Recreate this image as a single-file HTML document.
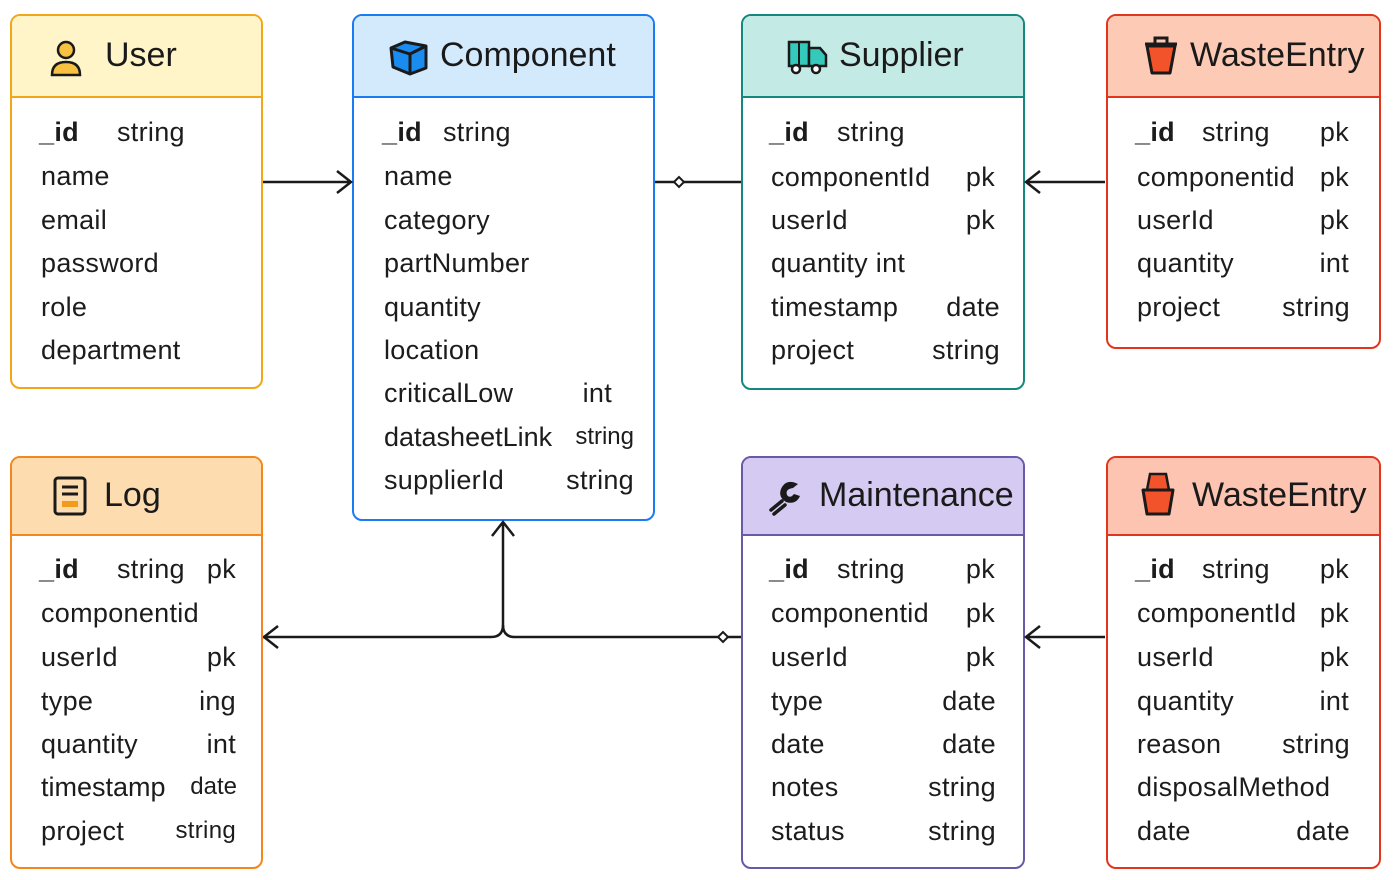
<!DOCTYPE html>
<html><head><meta charset="utf-8"><style>
body{margin:0;width:1398px;height:880px;background:#fff;position:relative;overflow:hidden;font-family:"Liberation Sans",sans-serif;color:#1c1c1c}
.box{position:absolute;border:2.5px solid;border-radius:10px;background:#fff;box-sizing:border-box;overflow:hidden}
.hd{position:absolute;left:0;right:0;top:0;border-bottom:2.5px solid}
.t{position:absolute;font-size:27px;line-height:30px;white-space:nowrap;letter-spacing:0.3px}
.ti{position:absolute;font-size:34px;line-height:40px;white-space:nowrap;color:#1a1a1a}
b{font-weight:bold}
svg{position:absolute;left:0;top:0}
</style></head><body>

<div class="box" style="left:10px;top:14px;width:253px;height:375px;border-color:#f2a71b"><div class="hd" style="height:80px;background:#fff5c9;border-color:#f2a71b"></div></div>
<div class="box" style="left:352px;top:14px;width:303px;height:507px;border-color:#1a7cf5"><div class="hd" style="height:80px;background:#d3eafd;border-color:#1a7cf5"></div></div>
<div class="box" style="left:741px;top:14px;width:284px;height:376px;border-color:#14887f"><div class="hd" style="height:80px;background:#c4eae5;border-color:#14887f"></div></div>
<div class="box" style="left:1106px;top:14px;width:275px;height:335px;border-color:#e2361c"><div class="hd" style="height:80px;background:#fdcbb5;border-color:#e2361c"></div></div>
<div class="box" style="left:10px;top:456px;width:253px;height:413px;border-color:#f5861b"><div class="hd" style="height:76px;background:#fddcb0;border-color:#f5861b"></div></div>
<div class="box" style="left:741px;top:456px;width:284px;height:413px;border-color:#6a5aa6"><div class="hd" style="height:76px;background:#d5caf1;border-color:#6a5aa6"></div></div>
<div class="box" style="left:1106px;top:456px;width:275px;height:413px;border-color:#e2361c"><div class="hd" style="height:76px;background:#fdc4b2;border-color:#e2361c"></div></div>

<svg width="1398" height="880" viewBox="0 0 1398 880">
<g stroke="#1a1a1a" stroke-width="2.5" fill="none">
<path d="M263 182H351M337 171L351 182L337 193"/>
<path d="M655 182H741"/>
<path d="M1105 182H1026M1040 171L1026 182L1040 193"/>
<path d="M263 637H491Q503 637 503 625V522M492 536L503 522L514 536"/>
<path d="M503 625Q503 637 515 637H741"/>
<path d="M264 637L278 626M264 637L278 648"/>
<path d="M1105 637H1026M1040 626L1026 637L1040 648"/>
</g>
<path d="M674 182L679 177L684 182L679 187Z" fill="#fff" stroke="#1a1a1a" stroke-width="2"/>
<path d="M718 637L723 632L728 637L723 642Z" fill="#fff" stroke="#1a1a1a" stroke-width="2"/>
<circle cx="66" cy="50" r="8" fill="#f7c242" stroke="#1a1a1a" stroke-width="2.5"/>
<path d="M52 75Q52 62 66 62Q80 62 80 75Z" fill="#f7c242" stroke="#1a1a1a" stroke-width="2.5"/>
<path d="M391 48L405 42L426 46L426 68L410 74L393 67Z" fill="#1a8cf0" stroke="#1a1a1a" stroke-width="3" stroke-linejoin="round"/>
<path d="M391 48L410 54L426 46M410 54V74" fill="none" stroke="#1a1a1a" stroke-width="3"/>
<rect x="789" y="42" width="20" height="24" fill="#35c9bb" stroke="#1a1a1a" stroke-width="2.5"/>
<path d="M809 48H820L826 55V66H809Z" fill="#35c9bb" stroke="#1a1a1a" stroke-width="2.5"/>
<line x1="799" y1="42" x2="799" y2="66" stroke="#1a1a1a" stroke-width="2"/>
<circle cx="796" cy="69" r="4" fill="#fff" stroke="#1a1a1a" stroke-width="2.5"/>
<circle cx="816" cy="69" r="4" fill="#fff" stroke="#1a1a1a" stroke-width="2.5"/>
<path d="M1145 44H1177" stroke="#1a1a1a" stroke-width="3"/>
<path d="M1155 44V38H1167V44" fill="none" stroke="#1a1a1a" stroke-width="3"/>
<path d="M1147 46L1152 73H1170L1175 46Z" fill="#f3532a" stroke="#1a1a1a" stroke-width="3" stroke-linejoin="round"/>
<rect x="55" y="478" width="30" height="36" rx="3" fill="#fddcb0" stroke="#1a1a1a" stroke-width="3"/>
<path d="M62 487H78M62 494H78" stroke="#1a1a1a" stroke-width="3"/>
<path d="M62 501H78V507H62" fill="#f59b1b"/>
<path d="M798 484Q786 478 781 489Q778 497 786 502Q796 505 800 496L794 494Q790 499 787 495Q785 489 793 488Z" fill="#1a1a1a"/>
<path d="M782 501L771 510M785 505L774 514" stroke="#1a1a1a" stroke-width="3.5" stroke-linecap="round"/>
<path d="M1150 474L1147 490H1169L1166 474Z" fill="#f3532a" stroke="#1a1a1a" stroke-width="2.5"/>
<path d="M1143 490H1173L1169 514H1147Z" fill="#f3532a" stroke="#1a1a1a" stroke-width="3" stroke-linejoin="round"/>
</svg>

<div class="ti" style="left:105px;top:35px">User</div>
<div class="ti" style="left:440px;top:35px">Component</div>
<div class="ti" style="left:839px;top:35px">Supplier</div>
<div class="ti" style="left:1190px;top:35px">WasteEntry</div>
<div class="ti" style="left:104px;top:475px">Log</div>
<div class="ti" style="left:819px;top:475px">Maintenance</div>
<div class="ti" style="left:1192px;top:475px">WasteEntry</div>

<div class="t" style="left:39px;top:117px"><b>_id</b></div><div class="t" style="left:117px;top:117px">string</div>
<div class="t" style="left:41px;top:161px">name</div>
<div class="t" style="left:41px;top:205px">email</div>
<div class="t" style="left:41px;top:248px">password</div>
<div class="t" style="left:41px;top:292px">role</div>
<div class="t" style="left:41px;top:335px">department</div>

<div class="t" style="left:382px;top:117px"><b>_id</b></div><div class="t" style="left:443px;top:117px">string</div>
<div class="t" style="left:384px;top:161px">name</div>
<div class="t" style="left:384px;top:205px">category</div>
<div class="t" style="left:384px;top:248px">partNumber</div>
<div class="t" style="left:384px;top:292px">quantity</div>
<div class="t" style="left:384px;top:335px">location</div>
<div class="t" style="left:384px;top:378px">criticalLow</div><div class="t" style="right:786px;top:378px">int</div>
<div class="t" style="left:384px;top:422px;letter-spacing:0">datasheetLink</div><div class="t" style="right:764px;top:422px;font-size:24px;letter-spacing:0">string</div>
<div class="t" style="left:384px;top:465px">supplierId</div><div class="t" style="right:764px;top:465px">string</div>

<div class="t" style="left:769px;top:117px"><b>_id</b></div><div class="t" style="left:837px;top:117px">string</div>
<div class="t" style="left:771px;top:162px">componentId</div><div class="t" style="right:403px;top:162px">pk</div>
<div class="t" style="left:771px;top:205px">userId</div><div class="t" style="right:403px;top:205px">pk</div>
<div class="t" style="left:771px;top:248px">quantity int</div>
<div class="t" style="left:771px;top:292px">timestamp</div><div class="t" style="right:398px;top:292px">date</div>
<div class="t" style="left:771px;top:335px">project</div><div class="t" style="right:398px;top:335px">string</div>

<div class="t" style="left:1135px;top:117px"><b>_id</b></div><div class="t" style="left:1202px;top:117px">string</div><div class="t" style="right:49px;top:117px">pk</div>
<div class="t" style="left:1137px;top:162px">componentid</div><div class="t" style="right:49px;top:162px">pk</div>
<div class="t" style="left:1137px;top:205px">userId</div><div class="t" style="right:49px;top:205px">pk</div>
<div class="t" style="left:1137px;top:248px">quantity</div><div class="t" style="right:49px;top:248px">int</div>
<div class="t" style="left:1137px;top:292px">project</div><div class="t" style="right:48px;top:292px">string</div>

<div class="t" style="left:39px;top:554px"><b>_id</b></div><div class="t" style="left:117px;top:554px">string</div><div class="t" style="right:1162px;top:554px">pk</div>
<div class="t" style="left:41px;top:598px">componentid</div>
<div class="t" style="left:41px;top:642px">userId</div><div class="t" style="right:1162px;top:642px">pk</div>
<div class="t" style="left:41px;top:686px">type</div><div class="t" style="right:1162px;top:686px">ing</div>
<div class="t" style="left:41px;top:729px">quantity</div><div class="t" style="right:1162px;top:729px">int</div>
<div class="t" style="left:41px;top:772px;letter-spacing:0">timestamp</div><div class="t" style="right:1161px;top:772px;font-size:24px;letter-spacing:0">date</div>
<div class="t" style="left:41px;top:816px">project</div><div class="t" style="right:1162px;top:816px;font-size:24px">string</div>

<div class="t" style="left:769px;top:554px"><b>_id</b></div><div class="t" style="left:837px;top:554px">string</div><div class="t" style="right:403px;top:554px">pk</div>
<div class="t" style="left:771px;top:598px">componentid</div><div class="t" style="right:403px;top:598px">pk</div>
<div class="t" style="left:771px;top:642px">userId</div><div class="t" style="right:403px;top:642px">pk</div>
<div class="t" style="left:771px;top:686px">type</div><div class="t" style="right:402px;top:686px">date</div>
<div class="t" style="left:771px;top:729px">date</div><div class="t" style="right:402px;top:729px">date</div>
<div class="t" style="left:771px;top:772px">notes</div><div class="t" style="right:402px;top:772px">string</div>
<div class="t" style="left:771px;top:816px">status</div><div class="t" style="right:402px;top:816px">string</div>

<div class="t" style="left:1135px;top:554px"><b>_id</b></div><div class="t" style="left:1202px;top:554px">string</div><div class="t" style="right:49px;top:554px">pk</div>
<div class="t" style="left:1137px;top:598px">componentId</div><div class="t" style="right:49px;top:598px">pk</div>
<div class="t" style="left:1137px;top:642px">userId</div><div class="t" style="right:49px;top:642px">pk</div>
<div class="t" style="left:1137px;top:686px">quantity</div><div class="t" style="right:49px;top:686px">int</div>
<div class="t" style="left:1137px;top:729px">reason</div><div class="t" style="right:48px;top:729px">string</div>
<div class="t" style="left:1137px;top:772px">disposalMethod</div>
<div class="t" style="left:1137px;top:816px">date</div><div class="t" style="right:48px;top:816px">date</div>

</body></html>
